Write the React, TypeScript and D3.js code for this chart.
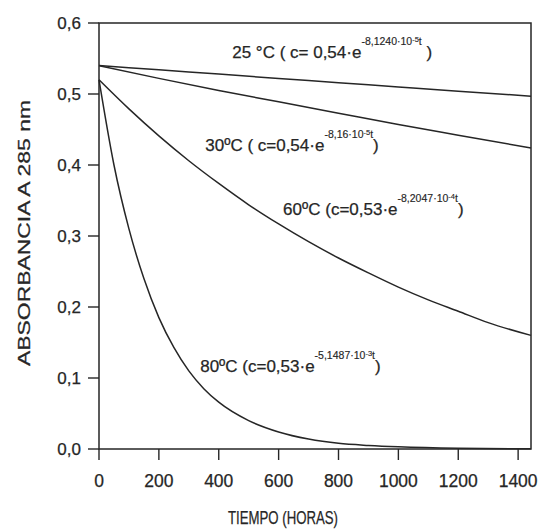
import React from "react";
import * as d3 from "d3";

// Time (hours) sample points
const tiempo25 = [0, 200, 400, 600, 800, 1000, 1200, 1443];
const abs25 = [0.54, 0.534, 0.528, 0.522, 0.516, 0.51, 0.504, 0.497];

const tiempo30 = [0, 200, 400, 600, 800, 1000, 1200, 1443];
const abs30 = [0.54, 0.522, 0.505, 0.489, 0.473, 0.457, 0.442, 0.424];

const tiempo60 = [0, 100, 200, 300, 400, 500, 600, 700, 800, 900, 1000, 1100, 1200, 1300, 1443];
const abs60 = [0.52, 0.479, 0.441, 0.406, 0.374, 0.344, 0.317, 0.292, 0.269, 0.248, 0.228, 0.21, 0.194, 0.178, 0.16];

const tiempo80 = [0, 50, 100, 150, 200, 250, 300, 350, 400, 500, 600, 700, 800, 900, 1000, 1200, 1443];
const abs80 = [0.52, 0.4, 0.31, 0.24, 0.185, 0.143, 0.11, 0.085, 0.066, 0.04, 0.024, 0.014, 0.008, 0.005, 0.003, 0.001, 0.0003];

const xTicks = [0, 200, 400, 600, 800, 1000, 1200, 1400];
const yTicks = [0, 0.1, 0.2, 0.3, 0.4, 0.5, 0.6];
const yTickLabels = ["0,0", "0,1", "0,2", "0,3", "0,4", "0,5", "0,6"];

// curve annotations: text pieces and anchor (time, absorbance) of the baseline start
const labels = [
  { main: "25 °C ( c= 0,54·e", sup: "-8,1240·10", sup2: "-5", tail: "t", end: " )", t: 445, v: 0.551 },
  { main: "30ºC ( c=0,54·e", sup: "-8,16·10", sup2: "-5", tail: "t", end: ")", t: 355, v: 0.42 },
  { main: "60ºC (c=0,53·e", sup: "-8,2047·10", sup2: "-4", tail: "t", end: ")", t: 615, v: 0.33 },
  { main: "80ºC (c=0,53·e", sup: "-5,1487·10", sup2: "-3", tail: "t", end: ")", t: 338, v: 0.108 },
];

const W = 542;
const H = 531;
const left = 99;
const right = 531;
const top = 23;
const bottom = 449;

export default function App() {
  const x = d3.scaleLinear().domain([0, 1443]).range([left, right]);
  const y = d3.scaleLinear().domain([0, 0.6]).range([bottom, top]);
  const line = d3
    .line<[number, number]>()
    .x((d) => x(d[0]))
    .y((d) => y(d[1]))
    .curve(d3.curveMonotoneX);

  const series: [number[], number[]][] = [
    [tiempo25, abs25],
    [tiempo30, abs30],
    [tiempo60, abs60],
    [tiempo80, abs80],
  ];
  const ink = "#262626";
  const font = "Liberation Sans, Arial, sans-serif";
  const txtStroke = { stroke: ink, strokeWidth: 0.25 };

  return (
    <svg
      width={W}
      height={H}
      style={{ position: "absolute", left: 0, top: 0, background: "#fff" }}
      fontFamily={font}
    >
      <rect x={0} y={0} width={W} height={H} fill="#fff" />
      {/* frame */}
      <rect x={left} y={top} width={right - left} height={bottom - top} fill="none" stroke={ink} strokeWidth={1.5} />
      {/* curves */}
      {series.map(([ts, vs], i) => (
        <path
          key={i}
          d={line(ts.map((t, j) => [t, vs[j]] as [number, number])) || ""}
          fill="none"
          stroke={ink}
          strokeWidth={1.5}
        />
      ))}
      {/* y ticks */}
      {yTicks.map((v, i) => (
        <g key={"y" + i}>
          <line x1={left - 11} x2={left} y1={y(v)} y2={y(v)} stroke={ink} strokeWidth={1.4} />
          <text x={81} y={y(v)} dy="0.36em" textAnchor="end" fontSize={17} fill={ink} {...txtStroke}>
            {yTickLabels[i]}
          </text>
        </g>
      ))}
      {/* x ticks */}
      {xTicks.map((t, i) => (
        <g key={"x" + i}>
          <line x1={x(t)} x2={x(t)} y1={bottom} y2={bottom + 11} stroke={ink} strokeWidth={1.4} />
          <text x={x(t)} y={487} textAnchor="middle" fontSize={17.5} fill={ink} {...txtStroke}>
            {t}
          </text>
        </g>
      ))}
      <text
        x={228}
        y={524}
        fontSize={18}
        textLength={110}
        lengthAdjust="spacingAndGlyphs"
        fill={ink}
        {...txtStroke}
      >
        TIEMPO (HORAS)
      </text>
      <text
        transform={`translate(30,366) rotate(-90)`}
        fontSize={16}
        textLength={266}
        lengthAdjust="spacingAndGlyphs"
        fill={ink}
        {...txtStroke}
      >
        ABSORBANCIA A 285 nm
      </text>
      {/* curve labels */}
      {labels.map((l, i) => (
        <text key={"l" + i} x={x(l.t)} y={y(l.v)} fontSize={17} fill={ink} {...txtStroke}>
          <tspan>{l.main}</tspan>
          <tspan dy={-13} fontSize={10.5} strokeWidth={0.15}>{l.sup}</tspan>
          <tspan dy={-3} fontSize={7.5} strokeWidth={0.15}>{l.sup2}</tspan>
          <tspan dy={3} fontSize={10.5} strokeWidth={0.15}>{l.tail}</tspan>
          <tspan dy={13}>{l.end}</tspan>
        </text>
      ))}
    </svg>
  );
}
